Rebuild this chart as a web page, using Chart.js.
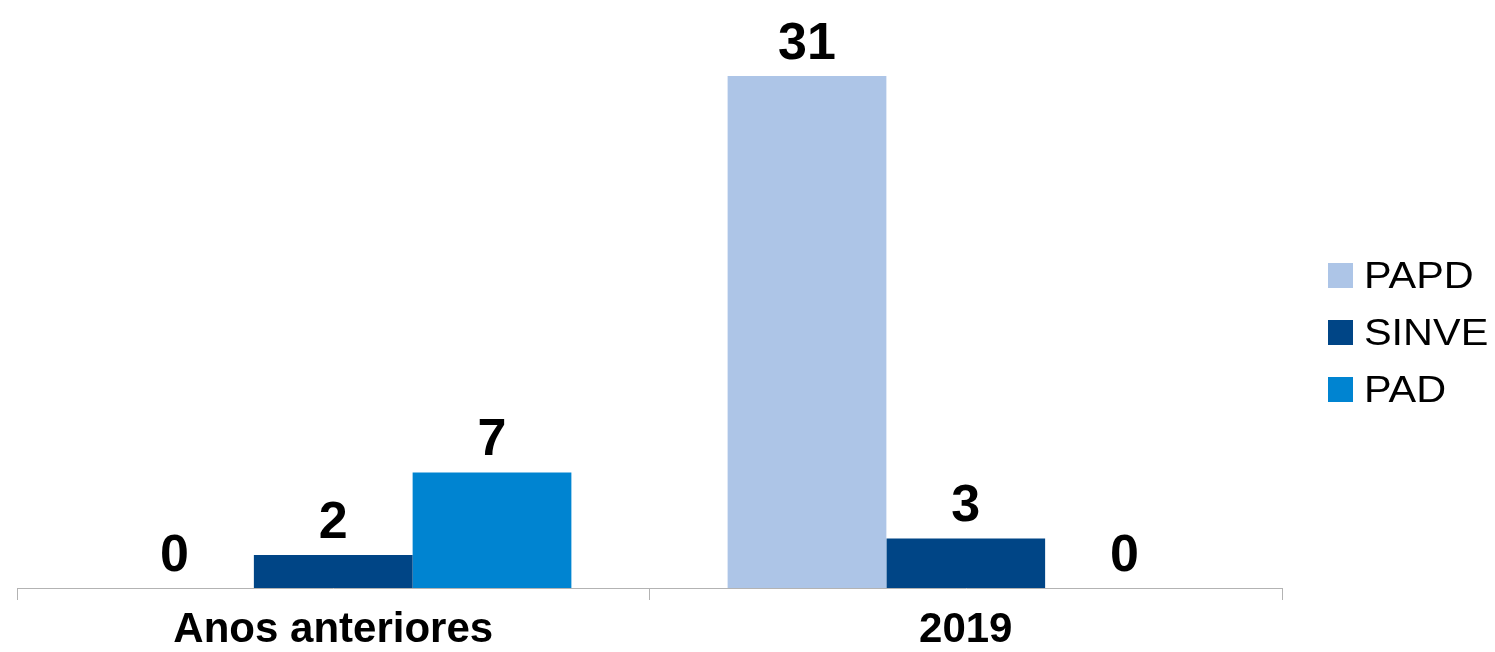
<!DOCTYPE html>
<html>
<head>
<meta charset="utf-8">
<script src="https://cdn.jsdelivr.net/npm/chart.js@4/dist/chart.umd.min.js"></script>
<style>
  html, body { margin: 0; padding: 0; background: #fff; }
  #wrap { width: 1495px; height: 652px; }
</style>
</head>
<body>
<div id="wrap"><canvas id="chart"></canvas></div>
<script>
// Data
const categories = ['Anos anteriores', '2019'];
const seriesNames = ['PAPD', 'SINVE', 'PAD'];
const papd = [0, 31];
const sinve = [2, 3];
const pad = [7, 0];
const colors = ['#adc5e7', '#004586', '#0084d1'];

const FONT = '"Liberation Sans", Arial, sans-serif';

// value labels above each bar
const valueLabels = {
    id: 'valueLabels',
    afterDatasetsDraw(chart) {
        const ctx = chart.ctx;
        ctx.save();
        ctx.font = 'bold 52px ' + FONT;
        ctx.fillStyle = '#000';
        ctx.textAlign = 'center';
        ctx.textBaseline = 'alphabetic';
        chart.data.datasets.forEach((ds, i) => {
            chart.getDatasetMeta(i).data.forEach((bar, j) => {
                ctx.fillText(String(ds.data[j]), bar.x, bar.y - 17);
            });
        });
        ctx.restore();
    }
};

// legend on the right, square markers (text is a bit wide in the original)
const sideLegend = {
    id: 'sideLegend',
    afterDraw(chart) {
        const ctx = chart.ctx;
        ctx.save();
        ctx.font = '36px ' + FONT;
        ctx.textBaseline = 'alphabetic';
        ctx.textAlign = 'left';
        chart.data.datasets.forEach((ds, i) => {
            const cy = 275.5 + i * 57;
            ctx.fillStyle = ds.backgroundColor;
            ctx.fillRect(1328, cy - 12.5, 25, 25);
            ctx.fillStyle = '#000';
            ctx.save();
            ctx.translate(1364, cy + 12);
            ctx.scale(1.15, 1);
            ctx.fillText(ds.label, 0, 0);
            ctx.restore();
        });
        ctx.restore();
    }
};

const seriesData = [papd, sinve, pad];

new Chart(document.getElementById('chart'), {
    type: 'bar',
    data: {
        labels: categories,
        datasets: seriesNames.map((name, i) => ({
            label: name,
            data: seriesData[i],
            backgroundColor: colors[i],
            categoryPercentage: 0.753,
            barPercentage: 1
        }))
    },
    options: {
        responsive: true,
        maintainAspectRatio: false,
        animation: false,
        layout: { padding: { left: 17, right: 213, top: 10, bottom: 0 } },
        plugins: { legend: { display: false }, tooltip: { enabled: false } },
        scales: {
            x: {
                grid: { offset: true, drawOnChartArea: false, drawTicks: true, tickLength: 12, color: '#b3b3b3', lineWidth: 1 },
                border: { color: '#b3b3b3', width: 1 },
                ticks: { color: '#000', padding: 8, font: { family: FONT, size: 42, weight: 'bold', lineHeight: 1.08 } },
                // keep the baseline where the original has it
                afterFit: (scale) => { scale.height = 64; }
            },
            y: {
                display: false,
                min: 0,
                max: 35
            }
        }
    },
    plugins: [valueLabels, sideLegend]
});
</script>
</body>
</html>
